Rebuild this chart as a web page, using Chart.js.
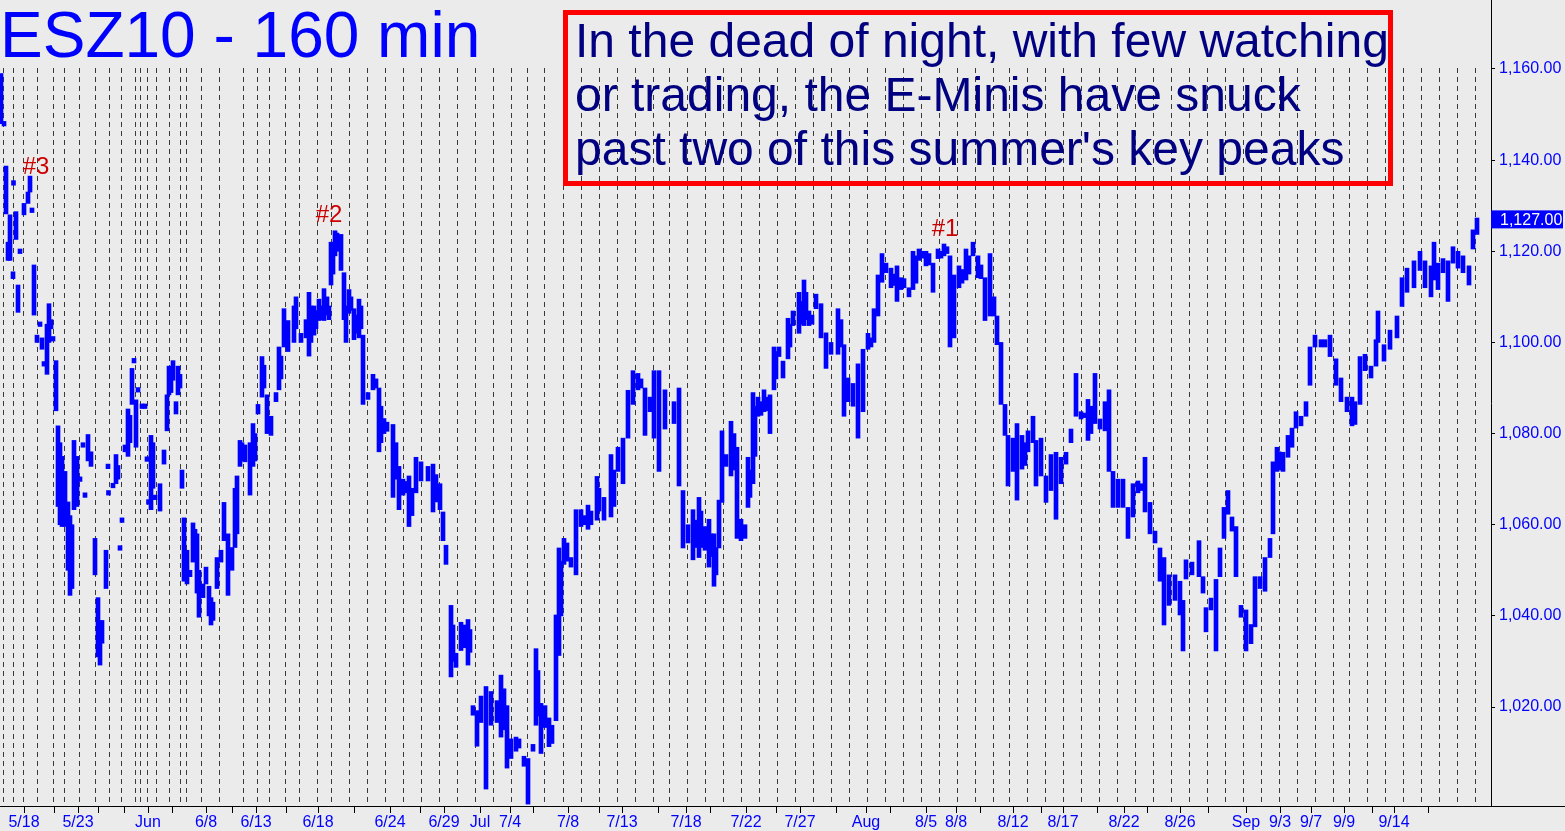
<!DOCTYPE html>
<html lang="en">
<head>
<meta charset="UTF-8">
<title>ESZ10 - 160 min</title>
<script src="https://cdn.jsdelivr.net/npm/chart.js"></script>
<style>
    body { margin: 0; background: #ebebeb; }
    .wrap { position: relative; width: 1565px; height: 831px; overflow: hidden; font-family: "Liberation Sans", Arial, sans-serif; }
    .wrap canvas { position: absolute; left: 0; top: 0; }
    .title { position: absolute; left: 0; top: 3px; font-size: 64px; line-height: 64px; color: #0000ff; white-space: nowrap; }
    .note { position: absolute; left: 563px; top: 10px; width: 820px; height: 166px; border: 5px solid #ff0000; }
    .note div { position: absolute; left: 7px; top: -1px; font-size: 48px; line-height: 54px; color: #000080; white-space: nowrap; }
</style>
</head>
<body>
<div class="wrap">
    <canvas id="chart" width="1565" height="831"></canvas>
    <div class="title">ESZ10 - 160 min</div>
    <div class="note"><div>In the dead of night, with few watching<br>or trading, the E-Minis have snuck<br>past two of this summer's key peaks</div></div>
</div>
<script>
// x unit = 160-minute bar number
const barX = [
    0.5, 2, 3, 4, 5, 6.5, 6.75, 8, 9, 10, 12, 14, 15, 16, 17, 18.5, 20, 21, 22, 23.5, 24.5, 25.5, 26.5, 28, 29, 30, 31, 32.5,
    34, 35, 36, 37, 38.5, 40, 41.5, 42.5, 44, 45.5, 47.5, 49, 50, 51, 53, 54, 54.25, 56.5, 58, 59, 60, 61, 62.5, 64, 65, 66,
    67, 68, 69, 71, 72.5, 73.5, 74.25, 75.5, 76.5, 77.5, 80, 82, 83.5, 84.5, 85.5, 86.5, 88, 89, 90, 91, 92, 93.5, 95, 96.5,
    97.5, 98.5, 99.5, 101.5, 103, 104.5, 105.5, 106.5, 108.5, 110.5, 112, 114, 116, 117.5, 118.5, 120, 121, 122.5, 125,
    126.5, 127.5, 129, 131, 132, 133.5, 135.5, 138, 139.5, 140.5, 142, 144, 147, 148, 150.5, 153, 154.5, 155.5, 157, 158,
    159.5, 160.5, 162, 163.5, 164.5, 165.5, 166.5, 167.5, 168.5, 170.5, 172, 173, 174.5, 175.5, 177, 178, 179.5, 180.5,
    181.5, 184, 186.5, 188, 189.5, 190.5, 192, 193.5, 196.5, 198, 199.5, 201.5, 203, 204.5, 206, 208, 210.5, 214, 216.5,
    218, 220, 221.5, 223, 225.5, 226.5, 228, 230.5, 232, 234, 235, 236.5, 238.5, 240.5, 243, 245.5, 248.5,
    250.5, 252, 253.5, 255.5, 258, 259.5, 262, 264, 266.5, 268, 269, 270.5, 272.5, 274.5, 276, 278, 279.5, 280.5, 282,
    283.5, 285.5, 288, 290.5, 292, 294, 295.5, 298.5, 299.5, 302, 305.5, 307, 309, 311.5, 314, 316.5, 319, 320.5, 322.5,
    325, 327, 329.5, 332.5, 337, 339.5, 341.5, 344, 346.5, 348, 349.5, 350.5, 352.5, 354.5, 355.5, 357, 358, 359.5, 361,
    363, 365.5, 367, 368.5, 370.5, 372.5, 374, 375, 376.5, 377.5, 379, 380.5, 382, 383, 385, 387, 388, 389.5, 391.5, 394,
    395, 396.5, 399.5, 400.5, 402, 403, 404.5, 406, 408, 410.5, 413, 415.5, 419, 420.5, 422, 424, 426.5, 429, 431.5, 434,
    435.5, 437, 439, 441, 443, 445.5, 447, 448.5, 450.5, 452, 454.5, 456.5, 458, 459.5, 461, 463, 464.5, 466.5, 469, 470.5,
    472, 473.5, 475, 477, 479.5, 481, 483, 484.5, 486.5, 489, 490.5, 492.5,
    495, 497, 498.5, 500.5, 502.5, 504, 506.5, 508.5, 511, 512.5, 514, 516.5, 518, 520.5, 523, 525.5, 528, 530.5, 533,
    535.5, 538, 540.5, 542, 544, 545.5, 547.5, 550, 552.5, 554.5, 556.5, 559, 561.5, 564, 566.5, 569, 570.5, 572.5, 575,
    577.5, 580, 582, 584.5, 587.5, 590, 591.5, 593, 596, 599.5, 601.5, 603, 605.5, 608, 610, 612, 614, 616, 618, 620.5,
    623, 625.5, 627.5, 630, 632.5, 635, 636.5, 638.5, 639.5, 641.5, 644, 646, 648, 650.5, 653, 655, 657.5, 660.5, 662.5,
    665, 668, 670.5, 673.5, 676, 677.5, 680, 682.5, 685.5, 688, 689, 692, 695, 698.5, 701, 703.5, 707, 710, 712.5, 715.5,
    717, 719, 721.5, 724, 726.5, 729, 731.5, 734.5, 736.5, 738.5
];
const barLo = [
    1148, 1147.5, 1128.2, 1118, 1118, 1114, 1134.5, 1122.6, 1106.6, 1119.5, 1128, 1130.5, 1133, 1128.5, 1106, 1100, 1103.5, 1098.5, 1094.8, 1093, 1100, 1103, 1100.3, 1085, 1064, 1060, 1059.6, 1059.6,
    1050, 1044.5, 1046, 1063.3, 1064, 1069.5, 1077, 1066, 1074, 1072.8, 1049, 1031, 1029.2, 1034, 1046, 1072.3, 1066.5, 1068.1, 1069, 1070, 1054.4, 1060.5, 1076, 1075, 1078, 1086.4,
    1095.5, 1077, 1089.1, 1085.5, 1085.5, 1073.9, 1064.5, 1063.3, 1068, 1065.5, 1063, 1073.3, 1080.6, 1088.5, 1089, 1091.7, 1084.3, 1088.5, 1090, 1068, 1047.6, 1047, 1048.6, 1051.8,
    1052, 1045, 1039.7, 1044, 1047, 1040, 1038, 1039, 1046, 1051.8, 1056.5, 1044.5, 1050, 1055, 1058, 1072.8, 1074, 1073.8, 1066.5,
    1072.8, 1074, 1084.3, 1088, 1090, 1080, 1079.6, 1087, 1089.6, 1092, 1099, 1098, 1100, 1103, 1100, 1101, 1097, 1100, 1101.6, 1103,
    1104.8, 1105, 1104.8, 1106, 1105, 1112.6, 1115, 1119, 1120, 1115.8, 1105, 1100, 1106.4, 1107, 1100.6, 1102, 1101, 1103,
    1086.4, 1087.5, 1089.6, 1090, 1076, 1078, 1080, 1080.5, 1066, 1070, 1063.3, 1066.5, 1067, 1059.6, 1062, 1067, 1069.6, 1069.6, 1062.8,
    1065, 1063.3, 1056.5, 1051.3, 1026.6, 1030, 1028.7, 1032.4, 1033, 1029.2, 1032, 1018.2, 1011.4, 1016.6, 1002, 1016, 1016.6,
    1013.4, 1015, 1006.6, 1008.7, 1010.3, 1011, 1007, 998.7, 1010.3, 1016, 1018, 1009.8, 1015.5, 1011.3, 1012, 1017, 1031.3, 1040, 1051.3,
    1052, 1050.7, 1049, 1059.6, 1060, 1059, 1060, 1061, 1063, 1061, 1061.7, 1064, 1071.7, 1069, 1079, 1086.4, 1089.6, 1090, 1079.6,
    1084.8, 1079, 1071.7, 1081, 1082.2, 1068.5, 1054.9, 1056, 1052.3, 1055, 1052.8, 1055, 1054.4, 1050.7, 1053, 1046.5, 1049, 1054.9, 1064.9,
    1072.8, 1070.7, 1072, 1057, 1056.5, 1057, 1063.8, 1066, 1069, 1075, 1083.8, 1084, 1084.8, 1085, 1080, 1089.6, 1092, 1096.9, 1092.2, 1096.4,
    1099, 1103.7, 1102, 1104, 1103.7, 1105, 1103.7, 1104, 1107.4, 1101, 1094.3, 1097.4, 1097.4, 1099, 1083.8, 1087, 1086, 1079, 1084.8, 1098.5,
    1099, 1100, 1105.8, 1113.2, 1115.3, 1112, 1112.5, 1109, 1111.6, 1112, 1110, 1111.6, 1113, 1118, 1118.5, 1116.8, 1117, 1111, 1118.4, 1118.5,
    1119, 1119.5, 1099, 1101, 1112, 1113, 1113.7, 1115, 1119, 1114.2, 1114, 1104.8,
    1105.8, 1105.8, 1099.5, 1086.4, 1079.6, 1068.5, 1071.7, 1065.4, 1072.2, 1073, 1076, 1078, 1068.5, 1070.7, 1064.9, 1067.5, 1061.2, 1069, 1073.3,
    1078, 1083.8, 1083.2, 1083.5, 1078.5, 1080, 1082.2, 1081, 1080.6, 1071.7, 1063.8, 1063.8, 1063.8, 1057, 1061.7, 1067, 1067.5, 1062.8, 1058,
    1056, 1047.6, 1038, 1042.3, 1043.4, 1040.2, 1032.3, 1048.1, 1049, 1048.6, 1045, 1036.5, 1041.3, 1032.3, 1048.6, 1057, 1062.3, 1058.6, 1048.6, 1039.7,
    1032.3, 1033.9, 1037.6, 1046, 1045.4, 1052.8, 1058, 1071.7, 1072, 1071.7, 1074.8, 1077, 1081.2, 1081.7, 1083.8, 1090.6, 1099, 1099, 1099,
    1096.9, 1090.6, 1087, 1084.8, 1081.7, 1082, 1086.4, 1093.8, 1092.2, 1094.8, 1100, 1095.9, 1098.5, 1101, 1107.9, 1111, 1112, 1115.8, 1112, 1110,
    1113.7, 1111.6, 1115.3, 1109, 1117.4, 1116.3, 1115.3, 1112.6, 1120.5, 1123.7
];
const barHi = [
    1159, 1148.5, 1138.7, 1122, 1128, 1115.5, 1135.5, 1128.7, 1112.6, 1120.5, 1130.5, 1133, 1136.5, 1129.5, 1117, 1101.6, 1104.5, 1101, 1095.8, 1104, 1108.5, 1105, 1101.3, 1096, 1081.7, 1078, 1075, 1071.7,
    1065, 1062, 1060, 1078.5, 1075, 1070.5, 1078, 1067, 1079.8, 1076, 1057, 1044, 1036, 1039, 1054.4, 1073.3, 1067.5, 1069.1, 1075.4, 1073, 1055.4, 1061.5, 1077.5, 1085.4, 1084, 1094.3,
    1096.5, 1087.4, 1090.1, 1086.5, 1086.5, 1074.9, 1065.5, 1079.6, 1078, 1066.5, 1069, 1076.4, 1088.5, 1094.8, 1093, 1096, 1087, 1094.8, 1093, 1072, 1061.5, 1054.4, 1050, 1060.4,
    1059, 1058, 1050, 1047, 1050.7, 1046.5, 1044, 1043, 1052.8, 1054.4, 1064.9, 1058, 1055, 1068, 1070.7, 1078.5, 1078, 1077.5, 1078,
    1082.2, 1080, 1086.4, 1096.9, 1095, 1088.5, 1083.8, 1089, 1099, 1097, 1107.4, 1104.8, 1108, 1110, 1102, 1105, 1111, 1108, 1108, 1107,
    1109.5, 1108, 1111.8, 1110, 1108, 1122, 1121, 1124.5, 1124, 1123.7, 1115.3, 1108, 1111.6, 1110, 1107.4, 1106, 1109.5, 1108,
    1101.6, 1089, 1093, 1092, 1090, 1086, 1083.3, 1082.5, 1082, 1078, 1072.8, 1070, 1069.5, 1070.7, 1068, 1074.8, 1073.8, 1072.8, 1073.3,
    1071, 1069, 1062.8, 1055.5, 1042.3, 1038, 1031.8, 1038.6, 1038, 1039.2, 1037, 1020.3, 1019.2, 1022.4, 1024.5, 1023.4, 1021.4,
    1027, 1024, 1020.3, 1013, 1013.4, 1013, 1009.2, 1008.7, 1011.8, 1032.8, 1028, 1020.8, 1020.3, 1017.6, 1016, 1040.2, 1054.9, 1052, 1057,
    1056, 1052.8, 1063.3, 1063.3, 1062, 1064.3, 1063, 1070.6, 1068, 1066, 1075.4, 1072, 1077, 1079, 1089.5, 1093.8, 1093.2, 1092, 1090,
    1088, 1093.8, 1093.8, 1089.6, 1087, 1090, 1067.5, 1060, 1063.3, 1061, 1066, 1063, 1059.6, 1061.2, 1058, 1058, 1055, 1065.4, 1080.6,
    1075.4, 1082.7, 1080, 1077, 1061.2, 1060, 1074.8, 1072, 1089, 1086, 1088, 1087, 1089.6, 1088, 1088.5, 1099, 1098, 1099, 1095.9, 1105.3,
    1104, 1106.9, 1111, 1109, 1113.7, 1111, 1106.9, 1106, 1110.6, 1108.5, 1102.1, 1100, 1107.4, 1105, 1099.5, 1092.2, 1091, 1095.3, 1098.5, 1102,
    1101, 1107.4, 1114.8, 1119.5, 1117.4, 1116.3, 1115, 1116.8, 1114.2, 1114, 1112, 1120, 1119, 1120.5, 1120, 1120, 1119.5, 1117.4, 1120.5, 1120,
    1121.6, 1121, 1119, 1114.8, 1116.8, 1116, 1120.5, 1119, 1122, 1119, 1117, 1114.2,
    1119.5, 1110, 1105.8, 1100, 1086.4, 1079.6, 1079, 1082.2, 1079.6, 1078, 1080.6, 1083.8, 1078.5, 1079, 1070.7, 1075.4, 1075.9, 1074.8, 1075.9,
    1081, 1093.2, 1084.8, 1084.5, 1087.5, 1086, 1093.2, 1083.2, 1087, 1089.6, 1071.7, 1070, 1070, 1063.8, 1069, 1069.6, 1069, 1074.8, 1064.9,
    1058.6, 1054.9, 1052.8, 1049, 1049, 1047.6, 1043.4, 1052.3, 1051.8, 1056.5, 1048.6, 1041.8, 1043.9, 1048, 1054.9, 1063.8, 1067.5, 1061.7, 1059.6, 1042.3,
    1041.3, 1038.1, 1048.6, 1048.6, 1052.8, 1057, 1073.8, 1077, 1076, 1075.9, 1079.6, 1081.2, 1084.8, 1083.8, 1087, 1099, 1101.6, 1100.6, 1100.6,
    1101.6, 1096.4, 1092.2, 1088, 1088, 1087, 1096.9, 1097.4, 1094.8, 1100.6, 1106.9, 1099.5, 1102.7, 1105.8, 1114.2, 1116.3, 1117.9, 1120, 1117.9, 1116.8,
    1122, 1117.4, 1118.4, 1117.9, 1121, 1120, 1119, 1116.8, 1124.7, 1127.3
];

const yTicks = [1020, 1040, 1060, 1080, 1100, 1120, 1140, 1160];
const xTickBars = [12, 27, 39, 49, 62, 74, 86, 103, 116, 128, 143, 159, 177, 195, 210, 222, 240, 255, 266.5, 284, 299.5, 311, 329, 343, 355,
    373, 388, 400, 418, 433, 445, 463, 478, 490, 506.5, 520.5, 531.5, 548.5, 562, 573.5, 590, 604, 623, 640, 655.5, 672, 686, 697, 714];
const xTickLabels = ["5/18", "", "5/23", "", "", "Jun", "", "6/8", "", "6/13", "", "6/18", "", "6/24", "", "6/29", "Jul", "7/4", "", "7/8", "", "7/13", "", "7/18", "",
    "7/22", "", "7/27", "", "Aug", "", "8/5", "8/8", "", "8/12", "", "8/17", "", "8/22", "", "8/26", "", "Sep", "9/3", "9/7", "9/9", "", "9/14", ""];
// session boundaries (dashed verticals)
const sessionBars = [1.4, 6.4, 11.4, 18.4, 26.4, 32.2, 39.4, 47.4, 54.4, 60.4, 67.4, 70.2, 73.4, 78.2, 84.4, 90.2, 92.9, 100.4, 109.4, 121.4,
    128.4, 134.4, 142.4, 149.4, 158.4, 165.4, 174.4, 183.4, 192.4, 201.4, 210.4, 219.4, 228.4, 237.4, 246.4, 255.4, 263.4, 272.2, 281.4,
    290.4, 299.4, 308.4, 317.4, 326.4, 334.4, 343.4, 352.4, 361.4, 370.4, 379.4, 388.4, 397.4, 406.4, 415.4, 424.4, 433.4, 442.4, 451.4,
    460.4, 469.4, 478.4, 487.4, 496.4, 504.4, 513.4, 522.4, 531.4, 540.4, 549.4, 558.4, 567.4, 576.4, 585.4, 594.4, 603.4, 612.4, 621.4,
    630.4, 639.4, 648.4, 657.4, 666.4, 674.4, 683.4, 692.4, 701.4, 710.4, 719.4, 728.4, 737.4];
const peakLabels = ["#3", "#2", "#1"];
const peakBars = [18, 164.5, 472.5];
const peakPrices = [1138.5, 1127.8, 1124.9];
const lastPrice = 1127;

const FONT = '"Liberation Sans", Arial, sans-serif';

const sessionLines = {
    id: "sessionLines",
    beforeDatasetsDraw(chart) {
        const c = chart.ctx, x = chart.scales.x, y = chart.scales.y;
        const top = y.getPixelForValue(1160) - 1, bottom = chart.chartArea.bottom;
        c.save();
        c.strokeStyle = "#3a3a3a";
        c.lineWidth = 1;
        c.setLineDash([5, 4]);
        sessionBars.forEach(v => {
            const px = Math.round(x.getPixelForValue(v)) + 0.5;
            c.beginPath();
            c.moveTo(px, top);
            c.lineTo(px, bottom);
            c.stroke();
        });
        c.restore();
    }
};

const marks = {
    id: "marks",
    afterDraw(chart) {
        const c = chart.ctx, x = chart.scales.x, y = chart.scales.y, area = chart.chartArea;
        c.save();
        // bottom line continues under the price axis
        c.strokeStyle = "#000";
        c.lineWidth = 1;
        c.beginPath();
        c.moveTo(area.right, Math.round(area.bottom) + 0.5);
        c.lineTo(chart.width, Math.round(area.bottom) + 0.5);
        c.stroke();
        // peak labels
        c.font = "24px " + FONT;
        c.fillStyle = "#cc0000";
        c.textAlign = "center";
        c.textBaseline = "middle";
        peakLabels.forEach((t, i) => c.fillText(t, x.getPixelForValue(peakBars[i]), y.getPixelForValue(peakPrices[i])));
        // last price box
        const py = y.getPixelForValue(lastPrice);
        c.fillStyle = "#0000ff";
        c.fillRect(area.right, py - 9, 72, 18);
        c.fillStyle = "#ffffff";
        c.font = "16px " + FONT;
        c.textAlign = "left";
        c.fillText(lastPrice.toLocaleString("en-US", { minimumFractionDigits: 2 }), area.right + 9, py + 1);
        c.restore();
    }
};

new Chart(document.getElementById("chart"), {
    type: "bar",
    data: {
        datasets: [{
            data: barX.map((v, i) => ({ x: v, y: [barLo[i], barHi[i]] })),
            backgroundColor: "#0000ff",
            borderWidth: 0,
            barThickness: 4
        }]
    },
    options: {
        responsive: false,
        animation: false,
        layout: { padding: 0 },
        plugins: { legend: { display: false }, tooltip: { enabled: false } },
        scales: {
            x: {
                type: "linear",
                min: 0,
                max: 745.5,
                offset: false,
                grid: { drawOnChartArea: false, color: "#000", tickLength: 7, offset: false },
                border: { color: "#000" },
                afterBuildTicks: s => { s.ticks = xTickBars.map(v => ({ value: v })); },
                afterFit: s => { s.height = 25; s.paddingLeft = 0; s.paddingRight = 0; },
                ticks: {
                    autoSkip: false,
                    maxRotation: 0,
                    padding: 0,
                    color: "#0000ff",
                    font: { family: FONT, size: 16 },
                    callback: v => xTickLabels[xTickBars.indexOf(v)] || ""
                }
            },
            y: {
                position: "right",
                min: 998.28,
                max: 1175.14,
                grid: { drawOnChartArea: false, color: "#000", tickLength: 4 },
                border: { color: "#000" },
                afterBuildTicks: s => { s.ticks = yTicks.map(v => ({ value: v })); },
                afterFit: s => { s.width = 74; s.paddingTop = 0; s.paddingBottom = 0; },
                ticks: {
                    padding: 4,
                    color: "#0000ff",
                    font: { family: FONT, size: 16 },
                    callback: v => v.toLocaleString("en-US", { minimumFractionDigits: 2 })
                }
            }
        }
    },
    plugins: [sessionLines, marks]
});
</script>
</body>
</html>
